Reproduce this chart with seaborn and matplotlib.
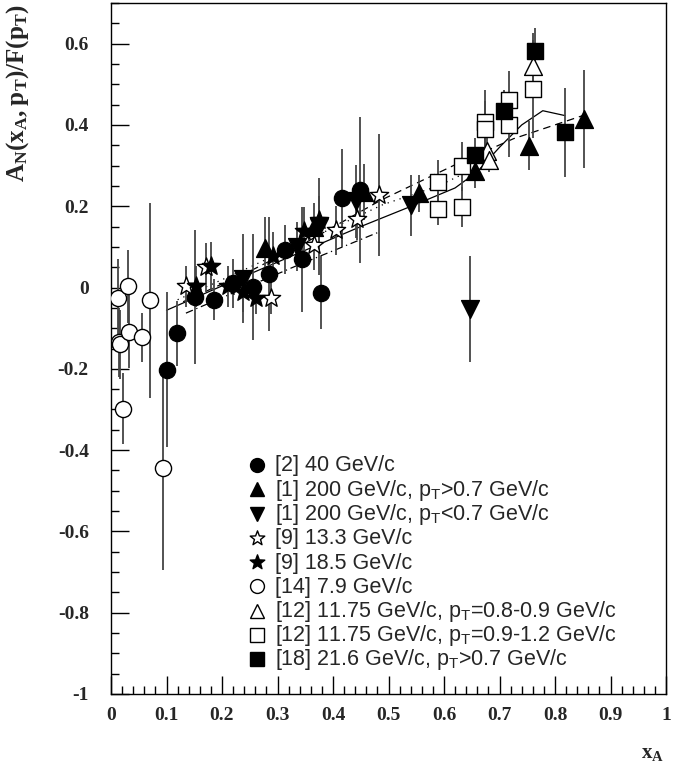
import numpy as np
import pandas as pd
import matplotlib
matplotlib.use("Agg")
import matplotlib.pyplot as plt
from matplotlib.path import Path
from matplotlib.ticker import MultipleLocator
import seaborn as sns

# ---------------- data ----------------
# [2] 40 GeV/c (filled circles)
c40_x = [0.100, 0.119, 0.151, 0.186, 0.220, 0.255, 0.285, 0.313, 0.345, 0.378, 0.416, 0.449]
c40_y = [-0.202, -0.112, -0.023, -0.030, 0.010, 0.001, 0.034, 0.093, 0.069, -0.013, 0.220, 0.240]
c40_e = [0.19, 0.08, 0.165, 0.05, 0.06, 0.13, 0.14, 0.06, 0.13, 0.09, 0.12, 0.18]

# [1] 200 GeV/c, pT>0.7 (filled up triangles)
tu_x = [0.277, 0.365, 0.455, 0.555, 0.655, 0.753, 0.853]
tu_y = [0.098, 0.149, 0.235, 0.232, 0.286, 0.349, 0.415]
tu_e = [0.075, 0.06, 0.07, 0.045, 0.04, 0.06, 0.12]

# [1] 200 GeV/c, pT<0.7 (filled down triangles)
td_x = [0.238, 0.335, 0.374, 0.441, 0.540, 0.647]
td_y = [0.022, 0.100, 0.150, 0.212, 0.202, -0.052]
td_e = [0.11, 0.06, 0.12, 0.09, 0.075, 0.13]

# [9] 13.3 GeV/c (open stars)
so_x = [0.135, 0.171, 0.288, 0.365, 0.405, 0.444, 0.482]
so_y = [0.003, 0.050, -0.026, 0.104, 0.141, 0.168, 0.227]
so_e = [0.05, 0.06, 0.04, 0.06, 0.06, 0.05, 0.15]

# [9] 18.5 GeV/c (filled stars)
sf_x = [0.153, 0.180, 0.210, 0.238, 0.262, 0.291, 0.347, 0.375]
sf_y = [0.003, 0.053, 0.003, -0.011, -0.026, 0.077, 0.138, 0.165]
sf_e = [0.05, 0.06, 0.05, 0.05, 0.04, 0.06, 0.06, 0.06]

# [14] 7.9 GeV/c (open circles)
co_x = [0.013, 0.014, 0.016, 0.021, 0.031, 0.033, 0.055, 0.071, 0.093]
co_y = [-0.025, -0.135, -0.140, -0.298, 0.003, -0.109, -0.122, -0.031, -0.445]
co_e = [0.094, 0.085, 0.085, 0.087, 0.09, 0.09, 0.06, 0.24, 0.25]

# [12] 11.75 GeV/c, pT=0.8-0.9 (open triangles)
to_x = [0.677, 0.681, 0.761]
to_y = [0.337, 0.313, 0.546]
to_e = [0.03, 0.03, 0.08]

# [12] 11.75 GeV/c, pT=0.9-1.2 (open squares)
qo_x = [0.590, 0.590, 0.632, 0.632, 0.674, 0.674, 0.717, 0.717, 0.760]
qo_y = [0.259, 0.194, 0.298, 0.198, 0.407, 0.390, 0.462, 0.400, 0.489]
qo_e = [0.055, 0.04, 0.06, 0.05, 0.08, 0.07, 0.07, 0.08, 0.12]

# [18] 21.6 GeV/c, pT>0.7 (filled squares)
qf_x = [0.655, 0.709, 0.764, 0.818]
qf_y = [0.327, 0.435, 0.581, 0.382]
qf_e = [0.04, 0.05, 0.057, 0.11]

# model curves
solid_x = [0.100, 0.200, 0.335, 0.450, 0.550, 0.620, 0.660, 0.700, 0.740, 0.778, 0.818]
solid_y = [-0.056, 0.004, 0.083, 0.150, 0.205, 0.245, 0.285, 0.345, 0.400, 0.435, 0.423]
dash_x = [0.130, 0.250, 0.350, 0.485, 0.623, 0.725, 0.850]
dash_y = [-0.035, 0.040, 0.110, 0.214, 0.304, 0.366, 0.423]
dot_x = [0.120, 0.250, 0.350, 0.490, 0.590, 0.640]
dot_y = [-0.030, 0.050, 0.115, 0.204, 0.250, 0.283]
dd_x = [0.135, 0.335, 0.482]
dd_y = [-0.063, 0.054, 0.136]

legend_labels = [
    "[2] 40 GeV/c",
    r"[1] 200 GeV/c, p$_\mathregular{T}$>0.7 GeV/c",
    r"[1] 200 GeV/c, p$_\mathregular{T}$<0.7 GeV/c",
    "[9] 13.3 GeV/c",
    "[9] 18.5 GeV/c",
    "[14] 7.9 GeV/c",
    r"[12] 11.75 GeV/c, p$_\mathregular{T}$=0.8-0.9 GeV/c",
    r"[12] 11.75 GeV/c, p$_\mathregular{T}$=0.9-1.2 GeV/c",
    r"[18] 21.6 GeV/c, p$_\mathregular{T}$>0.7 GeV/c",
]

# ---------------- style ----------------
sns.set_theme(style="white")
plt.rcParams["font.family"] = ["Liberation Serif", "DejaVu Serif"]
plt.rcParams["mathtext.fontset"] = "custom"
plt.rcParams["mathtext.rm"] = "Liberation Sans"

# thin ROOT-like star
ang = np.pi / 2 + np.arange(10) * np.pi / 5
rad = np.where(np.arange(10) % 2 == 0, 1.0, 0.42)
star_verts = np.column_stack([rad * np.cos(ang), rad * np.sin(ang)])
star_verts = np.vstack([star_verts, star_verts[:1]])
STAR = Path(star_verts, closed=True)

fig = plt.figure(figsize=(6.73, 7.70), dpi=100)
ax = fig.add_axes([111 / 673, 1 - 694 / 770, 555 / 673, 691 / 770])

series = [
    (c40_x, c40_y, c40_e, "o", "black", 135),
    (tu_x, tu_y, tu_e, "^", "black", 165),
    (td_x, td_y, td_e, "v", "black", 165),
    (so_x, so_y, so_e, STAR, "white", 190),
    (sf_x, sf_y, sf_e, STAR, "black", 190),
    (co_x, co_y, co_e, "o", "white", 135),
    (to_x, to_y, to_e, "^", "white", 165),
    (qo_x, qo_y, qo_e, "s", "white", 120),
    (qf_x, qf_y, qf_e, "s", "black", 120),
]

# model curves
for cx, cy, ls in [(solid_x, solid_y, "-"), (dash_x, dash_y, (0, (6, 4))),
                   (dot_x, dot_y, (0, (1, 4))), (dd_x, dd_y, (0, (6, 3, 1, 3)))]:
    sns.lineplot(x=cx, y=cy, ax=ax, color="black", lw=0.9, linestyle=ls,
                 sort=False, estimator=None, legend=False)

for xs, ys, es, mk, fc, s in series:
    ax.errorbar(xs, ys, yerr=es, fmt="none", ecolor="#444444", elinewidth=1.3,
                capsize=0, zorder=2)
    df = pd.DataFrame({"x": xs, "y": ys})
    sns.scatterplot(data=df, x="x", y="y", ax=ax, marker=mk, s=s,
                    facecolor=fc, edgecolor="black", linewidth=1.0,
                    zorder=3, legend=False)

ax.set_xlim(0, 1)
ax.set_ylim(-1, 0.7)
ax.set_xlabel("")
ax.set_ylabel("")
ax.xaxis.set_major_locator(MultipleLocator(0.1))
ax.xaxis.set_minor_locator(MultipleLocator(0.02))
ax.yaxis.set_major_locator(MultipleLocator(0.2))
ax.yaxis.set_minor_locator(MultipleLocator(0.05))
ax.tick_params(which="both", direction="in", top=False, right=False,
               left=True, bottom=True, color="black", width=1)
ax.tick_params(which="major", length=13)
ax.tick_params(which="minor", length=6)
ax.tick_params(axis="x", which="major", pad=9)
ax.tick_params(axis="y", which="major", pad=16)
xt = [0, 0.1, 0.2, 0.3, 0.4, 0.5, 0.6, 0.7, 0.8, 0.9, 1]
ax.set_xticks(xt)
ax.set_xticklabels(["0" if v == 0 else ("1" if v == 1 else f"{v:.1f}") for v in xt],
                   fontsize=14, fontweight="bold")
yt = [-1, -0.8, -0.6, -0.4, -0.2, 0, 0.2, 0.4, 0.6]
ax.set_yticks(yt)
ax.set_yticklabels(["-1" if v == -1 else ("0" if v == 0 else f"{v:.1f}") for v in yt],
                   fontsize=14, fontweight="bold")
for sp in ax.spines.values():
    sp.set_color("black")
    sp.set_linewidth(1.0)

# legend (drawn manually)
leg_markers = [("o", "black"), ("^", "black"), ("v", "black"), (STAR, "white"),
               (STAR, "black"), ("o", "white"), ("^", "white"), ("s", "white"),
               ("s", "black")]
row_top = 465
row_step = 24.25
for i, ((mk, fc), lab) in enumerate(zip(leg_markers, legend_labels)):
    ypx = row_top + i * row_step
    yf = (694 - ypx) / 691
    ax.plot([(257 - 111) / 555], [yf], transform=ax.transAxes, marker=mk,
            markersize=11 if mk is STAR else 10, mfc=fc, mec="black", mew=1.0,
            linestyle="none", zorder=4)
    ax.text((275 - 111) / 555, (694 - ypx - 6.5) / 691, lab, transform=ax.transAxes,
            va="baseline", ha="left", fontsize=15.5, family="Liberation Sans")

fig.text(18 / 673, 1 - 4 / 770, r"$\mathregular{A_N(x_A,p_T)/F(p_T)}$",
         rotation=90, va="top", ha="center", fontsize=18, fontweight="bold")
fig.text(653 / 673, 1 - 753 / 770, r"$\mathregular{x_A}$",
         va="center", ha="center", fontsize=15, fontweight="bold")

fig.savefig("out.png", dpi=100)
